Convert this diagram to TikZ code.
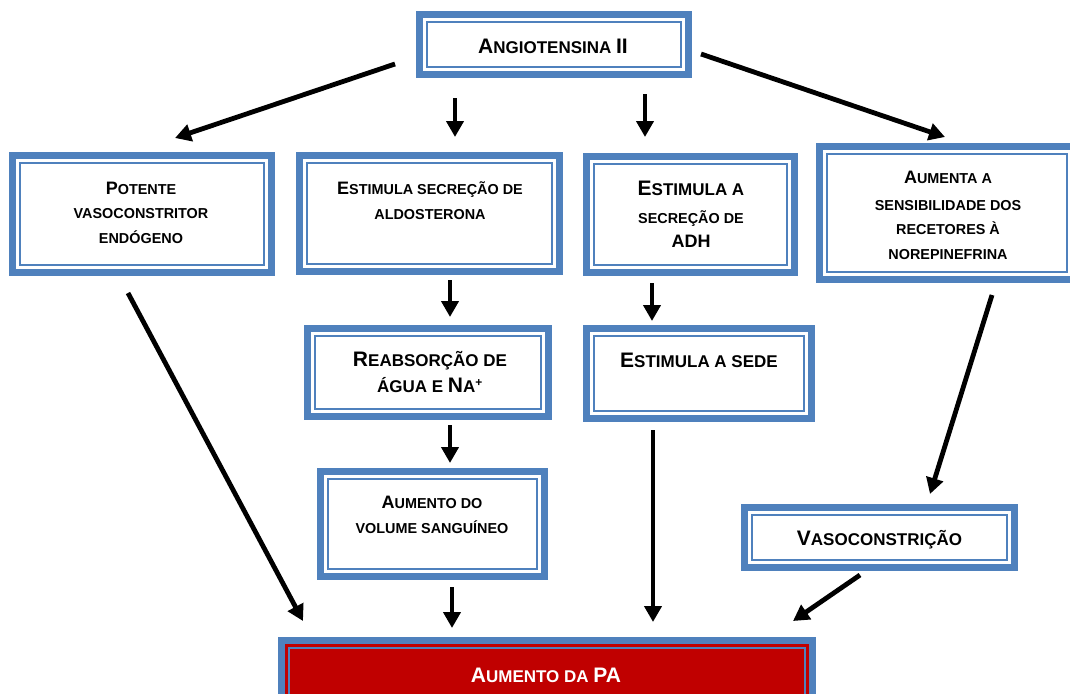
\documentclass[tikz,border=0pt]{standalone}
\usepackage{fontspec}
\setmainfont{Liberation Sans}
\usetikzlibrary{arrows.meta}
\definecolor{bxblue}{HTML}{4F81BD}
\definecolor{pared}{HTML}{C00000}
% faux small caps: capital size / small-cap size
\newcommand\capL{\fontsize{18}{24.5}\selectfont}
\newcommand\capS{\fontsize{14.4}{24.5}\selectfont}
\newcommand\capLL{\fontsize{21}{26}\selectfont}
\newcommand\capSS{\fontsize{17}{26}\selectfont}
\begin{document}
\begin{tikzpicture}[x=1pt,y=-1pt,
  bx/.style={rectangle, draw=bxblue, line width=7pt, fill=white, inner sep=0pt,
    path picture={\draw[bxblue,line width=2pt]
      ([xshift=7.5pt,yshift=7.5pt]path picture bounding box.south west) rectangle
      ([xshift=-7.5pt,yshift=-7.5pt]path picture bounding box.north east);}},
  txt/.style={align=center, inner sep=0pt, font=\bfseries\capS},
  txtb/.style={align=center, inner sep=0pt, font=\bfseries\capSS},
  arr/.style={line width=4.8pt, -{Triangle[length=16pt,width=17pt]}}]
\useasboundingbox (0,0) rectangle (1070,693);

% boxes
\node[bx, minimum width=269, minimum height=60]  (ang)  at (554,44.5) {};
\node[bx, minimum width=259, minimum height=117] (pot)  at (142,214) {};
\node[bx, minimum width=260, minimum height=116] (ald)  at (429.5,213.5) {};
\node[bx, minimum width=208, minimum height=116] (adh)  at (690.5,214.5) {};
\node[bx, minimum width=255, minimum height=133] (nor)  at (947,213) {};
\node[bx, minimum width=241, minimum height=88]  (rea)  at (428,372.5) {};
\node[bx, minimum width=225, minimum height=90]  (sede) at (699,373.5) {};
\node[bx, minimum width=224, minimum height=105] (vol)  at (432.5,524) {};
\node[bx, minimum width=270, minimum height=60]  (vas)  at (879.5,537.5) {};
\node[bx, fill=pared, minimum width=531, minimum height=76] (pa) at (547,678.5) {};

% labels
\node[txtb] (angT) at (553,46) {\capLL A\capSS NGIOTENSINA \capLL II};
\node[txt] (potT) at (141,212.5) {\capL P\capS OTENTE\\VASOCONSTRITOR\\ENDÓGENO};
\node[txt] (aldT) at (430,200.5) {\capL E\capS STIMULA SECREÇÃO DE\\ALDOSTERONA};
\node[txt, font=\bfseries\fontsize{14.4}{24}\selectfont] (adhT) at (691,214)
  {\fontsize{21}{24}\selectfont E\fontsize{17}{24}\selectfont STIMULA A\\[4pt]
   \fontsize{14.4}{24}\selectfont SECREÇÃO DE\\\fontsize{18}{24}\selectfont ADH};
\node[txt] (norT) at (948,215.5) {\capL A\capS UMENTA A\\[2pt]SENSIBILIDADE DOS\\RECETORES À\\NOREPINEFRINA};
\node[txtb] (reaT) at (430,372) {\capLL R\capSS EABSORÇÃO DE\\ÁGUA E \capLL N\capSS A\textsuperscript{+}};
\node[txtb] (sedeT) at (699,360) {\capLL E\capSS STIMULA A SEDE};
\node[txt] (volT) at (432,515) {\capL A\capS UMENTO DO\\VOLUME SANGUÍNEO};
\node[txtb] (vasT) at (879.5,540) {\capLL V\capSS ASOCONSTRIÇÃO};
\node[txtb, text=white] (paT) at (546,675) {\capLL A\capSS UMENTO DA \capLL PA};

% arrow end points
\coordinate (angW)  at (395,64);   \coordinate (potN)  at (175,138);
\coordinate (angS1) at (455,98);   \coordinate (aldN)  at (455,137);
\coordinate (angS2) at (645,94);   \coordinate (adhN)  at (645,137);
\coordinate (angE)  at (701,54);   \coordinate (norN)  at (945,137);
\coordinate (aldS)  at (450,280);  \coordinate (reaN)  at (450,317);
\coordinate (adhS)  at (652,283);  \coordinate (sedeN) at (652,321);
\coordinate (reaS)  at (450,425);  \coordinate (volN)  at (450,463);
\coordinate (potS)  at (128,293);  \coordinate (paNW)  at (303,621);
\coordinate (volS)  at (452,587);  \coordinate (paN1)  at (452,628);
\coordinate (sedeS) at (653,430);  \coordinate (paN2)  at (653,622);
\coordinate (norS)  at (992,295);  \coordinate (vasN)  at (930,494);
\coordinate (vasS)  at (860,575);  \coordinate (paNE)  at (793,621);

% connectors
\draw[arr] (angW) -- (potN);
\draw[arr] (angS1) -- (aldN);
\draw[arr] (angS2) -- (adhN);
\draw[arr] (angE) -- (norN);
\draw[arr] (aldS) -- (reaN);
\draw[arr] (adhS) -- (sedeN);
\draw[arr] (reaS) -- (volN);
\draw[arr] (potS) -- (paNW);
\draw[arr] (volS) -- (paN1);
\draw[arr] (sedeS) -- (paN2);
\draw[arr] (norS) -- (vasN);
\draw[arr] (vasS) -- (paNE);
\end{tikzpicture}
\end{document}
